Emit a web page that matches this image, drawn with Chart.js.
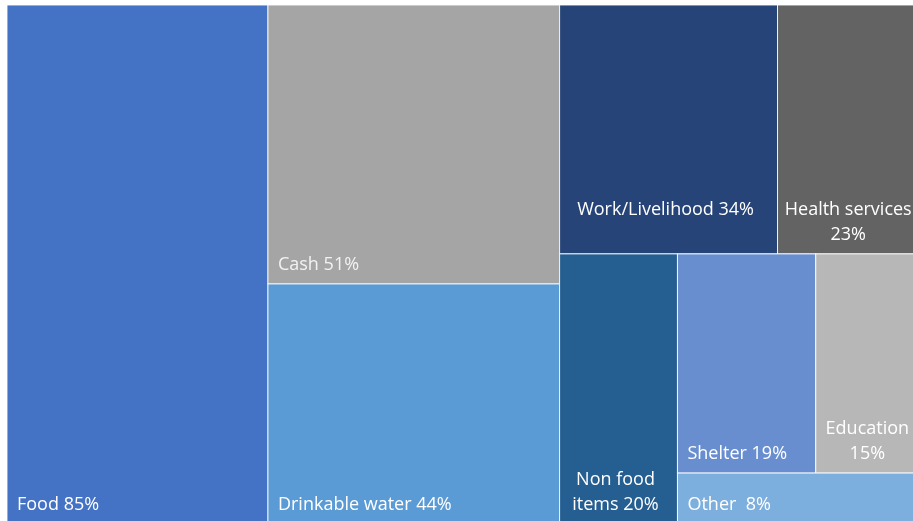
<!DOCTYPE html>
<html>
<head>
<meta charset="utf-8">
<script src="https://cdn.jsdelivr.net/npm/chart.js@4.4.1/dist/chart.umd.min.js"></script>
<style>
  html, body { margin: 0; padding: 0; background: #fff; overflow: hidden; }
  #treeChart { display: block; }
</style>
</head>
<body>
<canvas id="treeChart" width="913" height="521"></canvas>
<script>
const categories = ['Food', 'Cash', 'Drinkable water', 'Work/Livelihood', 'Health services',
  'Non food items', 'Shelter', 'Education', 'Other'];
const values = [85, 51, 44, 34, 23, 20, 19, 15, 8];
// how Excel wrapped the labels
const labels = ['Food 85%', 'Cash 51%', 'Drinkable water 44%', 'Work/Livelihood 34%\n',
  'Health services\n23%', 'Non food\nitems 20%', 'Shelter 19%', 'Education\n15%', 'Other  8%'];
const colors = ['#4472C4', '#A5A5A5', '#5B9BD5', '#264478', '#636363',
  '#255E91', '#698ED0', '#B7B7B7', '#7CAFDD'];

// split order Excel used: 'h' = side by side, 'v' = stacked
const plan = ['h', 0, ['v', 1, 2], ['v', ['h', 3, 4], ['h', 5, ['v', ['h', 6, 7], 8]]]];

// the original picture is cropped on the right and bottom
const visibleX = 0.987;
const visibleY = 0.993;

function sumOf(node) {
  if (typeof node === 'number') return values[node];
  return node.slice(1).reduce((s, n) => s + sumOf(n), 0);
}

function layout(node, r, out) {
  if (typeof node === 'number') {
    out[node] = r;
    return;
  }
  const dir = node[0];
  const kids = node.slice(1);
  const total = sumOf(node);
  let pos = dir === 'h' ? r.x0 : r.y0;
  kids.forEach((k) => {
    const f = sumOf(k) / total;
    if (dir === 'h') {
      const w = (r.x1 - r.x0) * f;
      layout(k, { x0: pos, x1: pos + w, y0: r.y0, y1: r.y1 }, out);
      pos += w;
    } else {
      const h = (r.y1 - r.y0) * f;
      layout(k, { x0: r.x0, x1: r.x1, y0: pos, y1: pos + h }, out);
      pos += h;
    }
  });
}

const cellsPlugin = {
  id: 'cells',
  afterDatasetsDraw(chart) {
    const { ctx, scales } = chart;
    const rects = [];
    layout(plan, { x0: 0, x1: 1, y0: 0, y1: 1 }, rects);
    ctx.save();
    rects.forEach((r, i) => {
      const left = scales.x.getPixelForValue(r.x0);
      const right = scales.x.getPixelForValue(r.x1);
      const top = scales.y.getPixelForValue(r.y0);
      const bottom = scales.y.getPixelForValue(r.y1);
      ctx.fillStyle = colors[i];
      ctx.fillRect(left, top, right - left, bottom - top);
      ctx.strokeStyle = 'rgba(255,255,255,0.85)';
      ctx.lineWidth = 1;
      ctx.strokeRect(left, top, right - left, bottom - top);

      const lines = labels[i].split('\n');
      ctx.font = '18px "Open Sans", "Noto Sans", sans-serif';
      ctx.fillStyle = i === 1 ? '#f2f2f2' : '#ffffff';
      ctx.textBaseline = 'middle';
      const lineH = 25;
      lines.forEach((ln, j) => {
        const y = bottom - 19.5 - (lines.length - 1 - j) * lineH;
        if (lines.length > 1) {
          ctx.textAlign = 'center';
          ctx.fillText(ln, (left + right) / 2 - 3, y);
        } else {
          ctx.textAlign = 'left';
          ctx.fillText(ln, left + 10, y);
        }
      });
    });
    ctx.restore();
  }
};

new Chart(document.getElementById('treeChart'), {
  type: 'scatter',
  data: { datasets: [{ data: [], pointRadius: 0 }] },
  options: {
    responsive: false,
    animation: false,
    devicePixelRatio: 1,
    layout: { padding: { left: 7, top: 5, right: 0, bottom: 0 } },
    plugins: { legend: { display: false }, tooltip: { enabled: false } },
    scales: {
      x: { display: false, min: 0, max: visibleX },
      y: { display: false, min: 0, max: visibleY, reverse: true }
    }
  },
  plugins: [cellsPlugin]
});
</script>
</body>
</html>
